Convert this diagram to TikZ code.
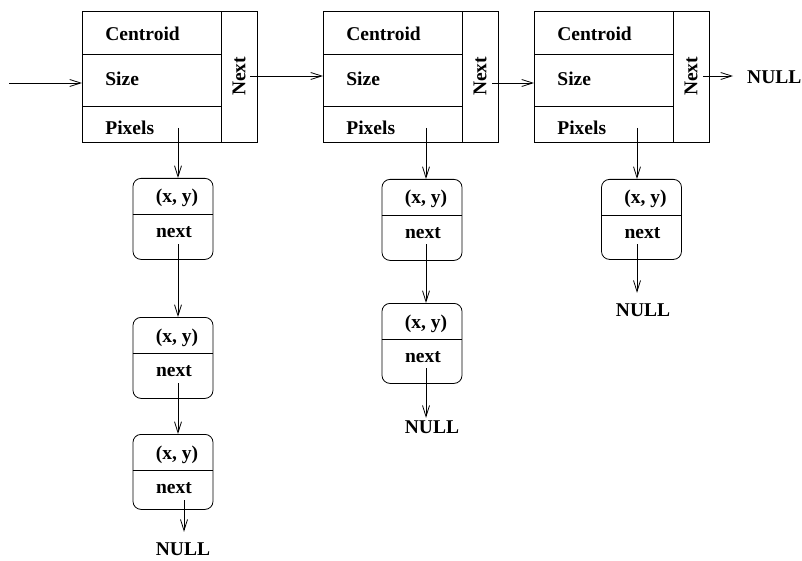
\documentclass[tikz,border=0pt]{standalone}
\usepackage{fontspec}
\setmainfont{Liberation Serif}
\usetikzlibrary{arrows.meta,calc}

% One item in a pixel list: rounded box with a "(x, y)" field over a "next" field
% #1 name, #2 centre x, #3 top y, #4 total height
\newcommand{\pixelitem}[4]{%
  \node[sbox, minimum height=#4pt, anchor=north] (#1) at (#2,#3) {};
  \draw[ln] ([yshift=-36pt]#1.north west) -- ([yshift=-36pt]#1.north east);
  \node[lbl, anchor=base] (#1xy) at (#2+4,#3+25) {(x, y)};
  \node[lbl, anchor=base] (#1nx) at (#2+1,#3+59) {next};
}

% One region record: Centroid / Size / Pixels cells with a vertical Next cell
% #1 suffix, #2 left x
\newcommand{\region}[2]{%
  \node[cell, minimum height=43pt, text height=15pt, anchor=north west] (ce#1) at (#2,11) {Centroid};
  \node[cell, minimum height=52pt, text height=10pt, anchor=north west] (sz#1) at (#2,54) {Size};
  \node[cell, minimum height=36pt, text height=20pt, anchor=north west] (px#1) at (#2,106) {Pixels};
  \node[draw, ln, rotate=90, minimum width=131pt, minimum height=36pt, inner sep=0pt] (nx#1) at (#2+157,76.5) {Next};
}

\begin{document}
\begin{tikzpicture}[x=1pt, y=-1pt,
  every node/.style={font=\fontsize{19.5}{22}\selectfont\bfseries},
  ln/.style={line width=0.8pt},
  cell/.style={draw, ln, inner sep=0pt, minimum width=139pt, text width=93pt, align=left, text depth=0pt},
  sbox/.style={draw, ln, rounded corners=8pt, minimum width=80pt, inner sep=0pt},
  lbl/.style={inner sep=0pt},
  nul/.style={inner sep=0pt, text height=13pt, text depth=0pt},
  arr/.style={ln, -{Straight Barb[length=11pt,width=7pt]}}
]
\useasboundingbox (0,0) rectangle (802,561);

% region records
\region{1}{82}
\region{2}{323}
\region{3}{534}

% pixel lists
\pixelitem{a1}{173}{178}{81}
\pixelitem{a2}{173}{317}{81}
\pixelitem{a3}{173}{434}{75}
\pixelitem{b1}{422}{179}{81}
\pixelitem{b2}{422}{303}{80}
\pixelitem{c1}{641.5}{179}{80}

% NULL terminators
\node[nul, anchor=base] (nulla) at (183,555) {NULL};
\node[nul, anchor=base] (nullb) at (432,433) {NULL};
\node[nul, anchor=base] (nullc) at (643,316) {NULL};
\node[nul, anchor=base west] (nullr) at (747,84) {NULL};

% horizontal links between records
\coordinate (q0) at (9,83);
\coordinate (q1) at (250,76);
\coordinate (q2) at (492,83);
\coordinate (q3) at (703,76);
\draw[arr] (q0) -- (q0 -| sz1.west);
\draw[arr] (q1) -- (q1 -| ce2.west);
\draw[arr] (q2) -- (q2 -| sz3.west);
\draw[arr, shorten >=14pt] (q3) -- (q3 -| nullr.west);

% first pixel list
\coordinate (pa) at (178,128);
\coordinate (sa1) at (178,244);
\coordinate (sa2) at (178,383);
\coordinate (sa3) at (184,500);
\draw[arr] (pa) -- (pa |- a1.north);
\draw[arr] (sa1) -- (sa1 |- a2.north);
\draw[arr] (sa2) -- (sa2 |- a3.north);
\draw[arr, shorten >=10pt] (sa3) -- (sa3 |- nulla.north);

% second pixel list
\coordinate (pb) at (426,128);
\coordinate (sb1) at (426,244);
\coordinate (sb2) at (426,368);
\draw[arr] (pb) -- (pb |- b1.north);
\draw[arr] (sb1) -- (sb1 |- b2.north);
\draw[arr, shorten >=2pt] (sb2) -- (sb2 |- nullb.north);

% third pixel list
\coordinate (pc) at (637,128);
\coordinate (sc1) at (637,244);
\draw[arr] (pc) -- (pc |- c1.north);
\draw[arr, shorten >=10pt] (sc1) -- (sc1 |- nullc.north);
\end{tikzpicture}
\end{document}
